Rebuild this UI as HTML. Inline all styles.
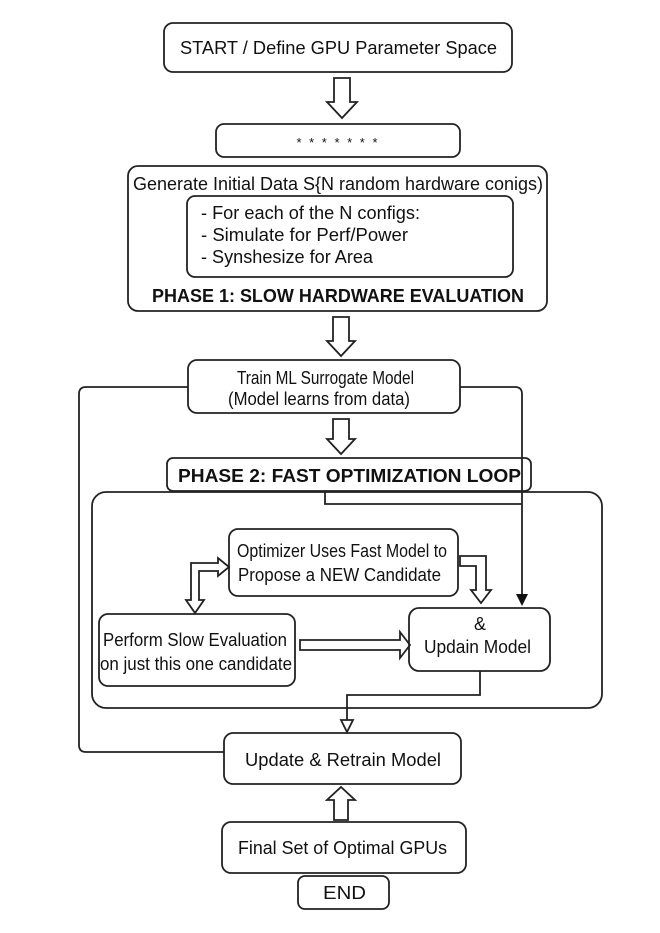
<!DOCTYPE html>
<html><head><style>body{margin:0;background:#fff}svg{display:block}text{font-family:"Liberation Sans",Arial,sans-serif;fill:#111}</style></head>
<body>
<svg width="660" height="933" viewBox="0 0 660 933" xmlns="http://www.w3.org/2000/svg">
<g fill="none" stroke="#222" stroke-width="1.8">
<rect x="164" y="23" width="348" height="49" rx="9"/>
<rect x="216" y="124" width="244" height="33" rx="8"/>
<rect x="128" y="166" width="419" height="145" rx="10"/>
<rect x="187" y="196" width="326" height="81" rx="8"/>
<rect x="188" y="360" width="272" height="53" rx="9"/>
<rect x="167" y="458" width="364" height="33" rx="6"/>
<rect x="92" y="492" width="510" height="216" rx="14"/>
<rect x="229" y="529" width="229" height="67" rx="9"/>
<rect x="99" y="614" width="196" height="72" rx="9"/>
<rect x="409" y="608" width="141" height="63" rx="10"/>
<rect x="224" y="733" width="237" height="51" rx="9"/>
<rect x="222" y="822" width="244" height="51" rx="9"/>
<rect x="298" y="876" width="91" height="33" rx="7"/>
<path d="M334 78 h16 v24 h7 l-15 16 l-15 -16 h7 z"/>
<path d="M333 317 h16 v24 h6 l-14 15 l-14 -15 h6 z"/>
<path d="M333 419 h16 v20 h6 l-14 15 l-14 -15 h6 z"/>
<path d="M334 820 h14 v-20 h7 l-14 -13 l-14 13 h7 z"/>
<path d="M300 640 h100 v-8 l10 13 l-10 13 v-8 h-100 z"/>
<path d="M460 556 h26 v34 h5 l-10 13 l-10 -13 h5 v-24 h-16 z"/>
<path d="M229 567 L218 558 V563 H191 V600 H186 L195 613 L204 600 H199 V571 H218 V576 Z"/>
<path d="M188 387 H86 q-7 0 -7 7 V745 q0 7 7 7 H224"/>
<path d="M460 387 H515 q7 0 7 7 V594"/>
<path d="M325 491 V504 H522"/>
<path d="M480 671 V695 H347 V720"/>
<path d="M341 720 h12 l-6 12 z"/>
</g>
<path d="M516 594 h12 l-6 12 z" fill="#111"/>
<g font-size="18" lengthAdjust="spacingAndGlyphs">
<text x="180" y="54" textLength="317" lengthAdjust="spacingAndGlyphs">START / Define GPU Parameter Space</text>
<text x="338" y="147" font-size="13" letter-spacing="2" text-anchor="middle">* * * * * * *</text>
<text x="133" y="190" textLength="410" lengthAdjust="spacingAndGlyphs">Generate Initial Data S{N random hardware conigs)</text>
<text x="201" y="219" textLength="219" lengthAdjust="spacingAndGlyphs">- For each of the N configs:</text>
<text x="201" y="241" textLength="207" lengthAdjust="spacingAndGlyphs">- Simulate for Perf/Power</text>
<text x="201" y="263" textLength="172" lengthAdjust="spacingAndGlyphs">- Synshesize for Area</text>
<text x="152" y="302" font-weight="bold" textLength="372" lengthAdjust="spacingAndGlyphs">PHASE 1: SLOW HARDWARE EVALUATION</text>
<text x="237" y="384" textLength="177" lengthAdjust="spacingAndGlyphs">Train ML Surrogate Model</text>
<text x="228" y="405" textLength="182" lengthAdjust="spacingAndGlyphs">(Model learns from data)</text>
<text x="178" y="482" font-weight="bold" textLength="343" lengthAdjust="spacingAndGlyphs">PHASE 2: FAST OPTIMIZATION LOOP</text>
<text x="237" y="557" textLength="210" lengthAdjust="spacingAndGlyphs">Optimizer Uses Fast Model to</text>
<text x="238" y="581" textLength="203" lengthAdjust="spacingAndGlyphs">Propose a NEW Candidate</text>
<text x="103" y="646" textLength="184" lengthAdjust="spacingAndGlyphs">Perform Slow Evaluation</text>
<text x="100" y="670" textLength="192" lengthAdjust="spacingAndGlyphs">on just this one candidate</text>
<text x="480" y="630" text-anchor="middle">&amp;</text>
<text x="424" y="653" textLength="107" lengthAdjust="spacingAndGlyphs">Updain Model</text>
<text x="245" y="766" textLength="196" lengthAdjust="spacingAndGlyphs">Update &amp; Retrain Model</text>
<text x="238" y="854" textLength="209" lengthAdjust="spacingAndGlyphs">Final Set of Optimal GPUs</text>
<text x="323" y="899" textLength="43" lengthAdjust="spacingAndGlyphs">END</text>
</g>
</svg>
</body></html>
